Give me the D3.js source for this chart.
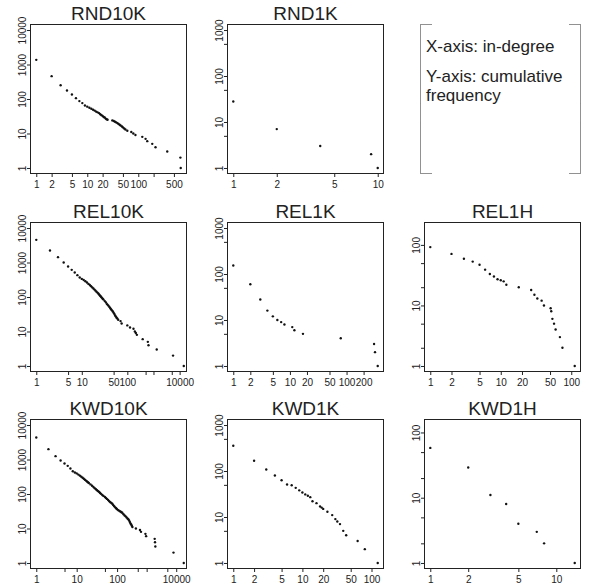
<!DOCTYPE html>
<html>
<head>
<meta charset="utf-8">
<script src="https://cdn.jsdelivr.net/npm/d3@7"></script>
<style>
  body { margin: 0; background: #fff; }
  svg text { font-family: "Liberation Sans", Arial, sans-serif; fill: #222; }
</style>
</head>
<body>
<svg id="chart"></svg>
<script>
// Constant values
const width = 589;
const height = 588;
const colLeft = [30.5, 227.5, 424.5];
const rowTop = [24.5, 222.5, 419.5];
const plotW = 156;
const plotH = 149;

// Data: in-degree (x) and cumulative frequency (y) per network
const rnd10kX = [1,2,3,4,5,6,7,8,9,10,11,12,13,14,15,16,17,18,19,20,21,22,23,24,25,31,33,35,37,39,41,43,45,48,50,53,56,61,73,80,88,120,139,150,188,218,370,670,680];
const rnd10kY = [1365,460,251,176,135,106,87,76,65,60,56,52,49,46,43,41,39,36,34,32,30,29,27,26,25,24,23,22,21,20,19,18,17,16,15,14,13,12,11,10,9,8,7,6,5,4,3,2,1];

const rnd1kX = [1,2,4,9,10];
const rnd1kY = [28,7,3,2,1];

const rel10kX = [1,2,3,4,5,6,7,8,9,10,11,12,13,14,15,16,17,18,19,20,21,22,23,24,25,26,27,28,29,30,32,34,36,38,40,42,44,46,48,50,52,54,56,58,60,63,71,75,100,127,172,194,212,232,387,609,645,1330,5600,14400];
const rel10kY = [4540,2230,1430,1000,766,612,514,430,367,335,312,285,262,240,222,205,190,176,164,153,143,134,126,118,111,105,99,93,88,84,76,69,62,57,52,48,44,41,38,35,32,29,27,25,24,22,20,17,15,13,12,10,9,8,6,5,4,3,2,1];

const rel1kX = [1,2,3,4,5,6,7,8,11,12,17,79,306,318,355];
const rel1kY = [153,60,28,16,12,10,9,8,7,6,5,4,3,2,1];

const rel1hX = [1,2,3,4,5,6,7,8,9,10,11,12,18,27,30,33,38,41,51,52,54,57,60,69,75,112];
const rel1hY = [92,71,59,53,47,39,33,30,27,26,25,22,20,18,15,13,12,10,9,8,6,5,4,3,2,1];

const kwd10kX = [1,2,3,4,5,6,7,8,9,10,11,12,13,14,15,16,17,18,19,20,22,24,26,28,30,32,34,36,38,40,43,46,50,53,56,60,64,68,72,76,80,85,90,95,100,110,120,130,140,150,165,180,195,210,225,240,255,270,285,300,315,330,433,595,645,910,960,1870,1920,1970,8100,18000];
const kwd10kY = [4340,2000,1250,935,766,655,548,458,420,395,365,340,315,295,277,260,245,232,220,208,190,174,160,148,138,129,121,114,107,101,94,88,82,77,72,67,62,58,55,52,48,44,41,38.5,36,34,32,31,29.5,28.5,26,24,22.5,21,19.5,18.5,17,15.5,14,13,12,11,10,9,8,7,6,5,4,3,2,1];

const kwd1kX = [1,2,3,4,5,6,7,8,9,10,11,12,13,14,16,18,19,20,23,27,30,32,35,39,43,63,80,123];
const kwd1kY = [354,167,108,80,63,51,49,43,38,34,31,29,27,22,20,17,16,15,13,11,9,8,7,5,4,3,2,1];

const kwd1hX = [1,2,3,4,5,7,8,14];
const kwd1hY = [58,29,11,8,4,3,2,1];

// Tick values and labels ("" = tick without label)
const xTicks125 = [1,2,5,10,20,50,100,200,500];
const xTicks15 = [1,5,10,50,100,500,1000,5000,10000];
const rnd10kXLabels = ["1","2","5","10","20","50","100","","500"];
const rnd1kXLabels = ["1","2","5","10"];
const rel10kXLabels = ["1","5","10","50","100","","","","10000"];
const rel1kXLabels = ["1","2","5","10","20","50","100","200"];
const rel1hXLabels = ["1","2","5","10","20","50","100"];
const kwd10kXLabels = ["1","","10","","100","","","","10000"];
const kwd1kXLabels = ["1","2","5","10","20","50","100"];
const kwd1hXLabels = ["1","2","5","10"];

const yTicks10k = [1,10,100,1000,10000];
const yLabels10k = ["1","10","100","1000","10000"];
const yTicks1k = [1,5,10,50,100,500,1000];
const yLabels1k = ["1","","10","","100","","1000"];
const yTicks1h = [1,2,5,10,20,50,100];
const yLabels1h = ["1","","","10","","","100"];

const legendLines = ["X-axis: in-degree", "Y-axis: cumulative", "frequency"];

// R-style 4% padding of the axis range
const padLo = 0.04 / 1.08;
const padHi = 1.04 / 1.08;

const panels = [
  { name: "RND10K", col: 0, row: 0, x: rnd10kX, y: rnd10kY, xDomain: [1, 680], xFrac: [padLo, padHi],
    xTicks: xTicks125, xLabels: rnd10kXLabels, yTop: 10000, yTicks: yTicks10k, yLabels: yLabels10k },
  { name: "RND1K", col: 1, row: 0, x: rnd1kX, y: rnd1kY, xDomain: [1, 10], xFrac: [padLo, padHi],
    xTicks: xTicks125, xLabels: rnd1kXLabels, yTop: 1000, yTicks: yTicks1k, yLabels: yLabels1k },
  { name: "REL10K", col: 0, row: 1, x: rel10kX, y: rel10kY, xDomain: [1, 100, 10000], xFrac: [padLo, 0.6206, 0.956],
    xTicks: xTicks15, xLabels: rel10kXLabels, yTop: 10000, yTicks: yTicks10k, yLabels: yLabels10k },
  { name: "REL1K", col: 1, row: 1, x: rel1kX, y: rel1kY, xDomain: [1, 355], xFrac: [padLo, padHi],
    xTicks: xTicks125, xLabels: rel1kXLabels, yTop: 1000, yTicks: yTicks1k, yLabels: yLabels1k },
  { name: "REL1H", col: 2, row: 1, x: rel1hX, y: rel1hY, xDomain: [1, 112], xFrac: [padLo, padHi],
    xTicks: xTicks125, xLabels: rel1hXLabels, yTop: 190, yTicks: yTicks1h, yLabels: yLabels1h },
  { name: "KWD10K", col: 0, row: 2, x: kwd10kX, y: kwd10kY, xDomain: [1, 100, 10000], xFrac: [padLo, 0.555, 0.934],
    xTicks: xTicks15, xLabels: kwd10kXLabels, yTop: 10000, yTicks: yTicks10k, yLabels: yLabels10k },
  { name: "KWD1K", col: 1, row: 2, x: kwd1kX, y: kwd1kY, xDomain: [1, 123], xFrac: [padLo, padHi],
    xTicks: xTicks125, xLabels: kwd1kXLabels, yTop: 1000, yTicks: yTicks1k, yLabels: yLabels1k },
  { name: "KWD1H", col: 2, row: 2, x: kwd1hX, y: kwd1hY, xDomain: [1, 14], xFrac: [padLo, padHi],
    xTicks: xTicks125, xLabels: kwd1hXLabels, yTop: 130, yTicks: yTicks1h, yLabels: yLabels1h }
];

// Create the SVG
const svg = d3.select("#chart")
  .attr("width", width)
  .attr("height", height);

panels.forEach(function (p) {
  const left = colLeft[p.col];
  const top = rowTop[p.row];
  const g = svg.append("g").attr("transform", `translate(${left},${top})`);

  // Create x and y scales
  const xScale = d3.scaleLog()
    .domain(p.xDomain)
    .range(p.xFrac.map(f => f * plotW));

  const yScale = d3.scaleLog()
    .domain([1, p.yTop])
    .range([plotH * padHi, plotH * padLo]);

  // Keep only the ticks that fall inside the box
  const xIdx = p.xTicks.map((v, i) => i).filter(i => {
    const px = xScale(p.xTicks[i]);
    return px >= 0 && px <= plotW;
  });

  const xAxis = d3.axisBottom(xScale)
    .tickValues(xIdx.map(i => p.xTicks[i]))
    .tickFormat((d, i) => p.xLabels[xIdx[i]])
    .tickSize(3.5)
    .tickPadding(3.5);

  const yAxis = d3.axisLeft(yScale)
    .tickValues(p.yTicks)
    .tickFormat((d, i) => p.yLabels[i])
    .tickSize(3.5);

  const gx = g.append("g")
    .attr("transform", `translate(0,${plotH})`)
    .call(xAxis);

  const gy = g.append("g").call(yAxis);

  [gx, gy].forEach(a => {
    a.attr("font-size", null).attr("font-family", null);
    a.select(".domain").remove();
    a.selectAll(".tick line").attr("stroke", "#222");
    a.selectAll("text").style("font-size", "10px");
  });

  // Rotate the y labels like R does
  gy.selectAll(".tick text")
    .attr("transform", "rotate(-90)")
    .attr("x", 0)
    .attr("y", -5)
    .attr("dy", null)
    .attr("text-anchor", "middle");

  // Box
  g.append("rect")
    .attr("width", plotW)
    .attr("height", plotH)
    .attr("fill", "none")
    .attr("stroke", "#222")
    .attr("stroke-width", 1);

  // Points
  g.selectAll(".pt")
    .data(p.x.map((v, i) => [v, p.y[i]]))
    .enter()
    .append("circle")
    .attr("class", "pt")
    .attr("cx", d => xScale(d[0]))
    .attr("cy", d => yScale(d[1]))
    .attr("r", 1.2)
    .attr("fill", "#111");

  // Title
  g.append("text")
    .attr("x", plotW / 2)
    .attr("y", -4.5)
    .attr("text-anchor", "middle")
    .style("font-size", "19px")
    .text(p.name);
});

// Legend box (bracket style, dotted)
const lx0 = 420.5, lx1 = 580.5, ly0 = 24.5, ly1 = 173.5, arm = 11;
svg.append("path")
  .attr("d", `M${lx0 + arm},${ly0}H${lx0}V${ly1}H${lx0 + arm}M${lx1 - arm},${ly0}H${lx1}V${ly1}H${lx1 - arm}`)
  .attr("fill", "none")
  .attr("stroke", "#222")
  .attr("stroke-width", 1)
  .attr("stroke-dasharray", "1,1");

const legendY = [52.3, 81.5, 100.5];
svg.selectAll(".legend")
  .data(legendLines)
  .enter()
  .append("text")
  .attr("class", "legend")
  .attr("x", 426)
  .attr("y", (d, i) => legendY[i])
  .style("font-size", "17px")
  .text(d => d);
</script>
</body>
</html>
